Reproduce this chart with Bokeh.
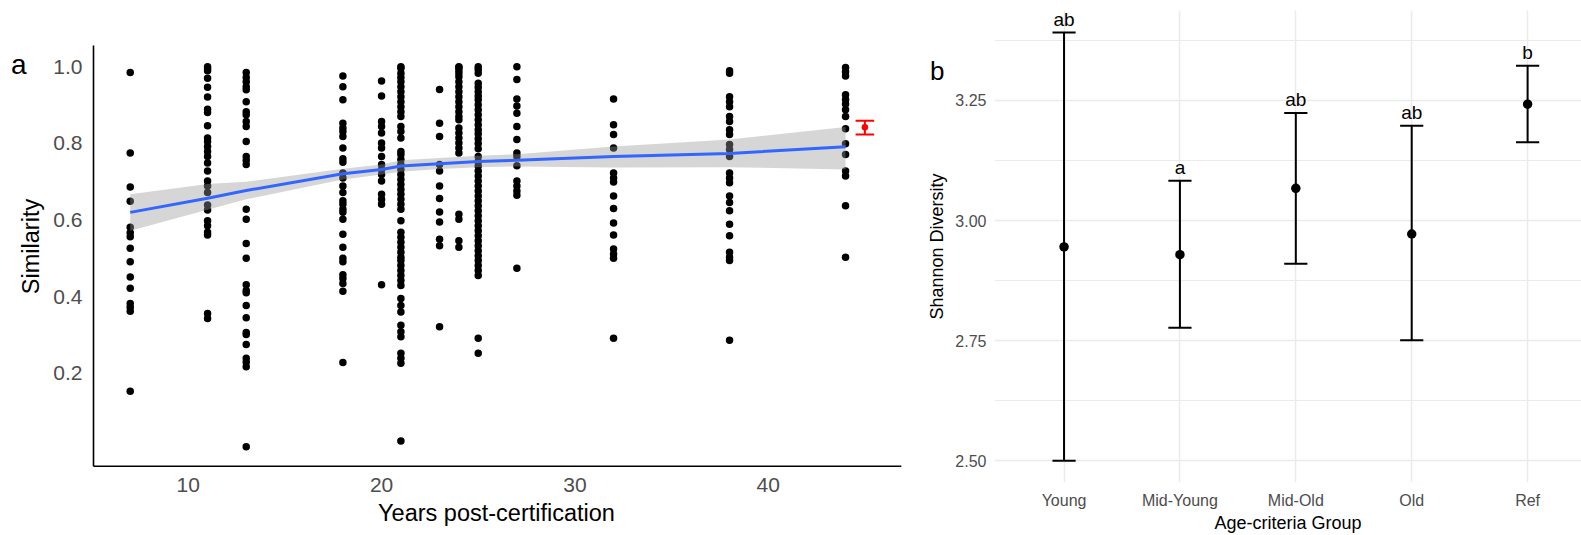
from bokeh.plotting import figure
from bokeh.layouts import row
from bokeh.models import Range1d, FixedTicker, PrintfTickFormatter, LinearAxis
from bokeh.embed import file_html
from bokeh.resources import INLINE
from bokeh.core.properties import value

FONT = "Liberation Sans"

# ---------------- panel a: similarity vs. years post-certification ----------------
sim_y07 = [0.985, 0.775, 0.686, 0.649, 0.581, 0.567, 0.556, 0.526, 0.491, 0.451,
           0.422, 0.382, 0.372, 0.362, 0.153]
sim_y11 = [1.0, 0.995, 0.99, 0.97, 0.947, 0.921, 0.889, 0.881, 0.846, 0.814, 0.805,
           0.792, 0.779, 0.766, 0.749, 0.728, 0.702, 0.689, 0.672, 0.639, 0.626,
           0.598, 0.585, 0.568, 0.561, 0.356, 0.343]
sim_y13 = [0.985, 0.972, 0.961, 0.948, 0.94, 0.909, 0.883, 0.875, 0.857, 0.844,
           0.805, 0.766, 0.756, 0.745, 0.628, 0.602, 0.539, 0.50, 0.431, 0.416,
           0.41, 0.377, 0.345, 0.306, 0.301, 0.275, 0.239, 0.229, 0.217, 0.008]
sim_y18 = [0.976, 0.948, 0.914, 0.853, 0.84, 0.831, 0.818, 0.788, 0.76, 0.751,
           0.723, 0.71, 0.689, 0.672, 0.65, 0.641, 0.628, 0.62, 0.602, 0.563,
           0.529, 0.50, 0.491, 0.457, 0.447, 0.434, 0.414, 0.228]
sim_y20 = [0.963, 0.924, 0.857, 0.844, 0.827, 0.801, 0.788, 0.766, 0.745, 0.732,
           0.719, 0.702, 0.667, 0.654, 0.641, 0.431]
sim_y21 = [1.0, 0.996, 0.983, 0.972, 0.961, 0.948, 0.935, 0.922, 0.909, 0.896,
           0.883, 0.87, 0.844, 0.831, 0.814, 0.779, 0.771, 0.758, 0.745, 0.732,
           0.719, 0.706, 0.693, 0.68, 0.667, 0.654, 0.641, 0.628, 0.598, 0.568,
           0.555, 0.542, 0.529, 0.516, 0.503, 0.494, 0.481, 0.468, 0.455, 0.442,
           0.429, 0.395, 0.377, 0.36, 0.325, 0.308, 0.295, 0.252, 0.239, 0.226,
           0.023]
sim_y23 = [0.941, 0.853, 0.818, 0.745, 0.728, 0.689, 0.656, 0.621, 0.595, 0.55,
           0.533, 0.321]
sim_y24 = [1.0, 0.998, 0.991, 0.983, 0.974, 0.961, 0.948, 0.935, 0.922, 0.909,
           0.896, 0.883, 0.87, 0.862, 0.84, 0.827, 0.814, 0.801, 0.788, 0.775,
           0.615, 0.602, 0.546, 0.529]
sim_y25 = [1.0, 0.993, 0.983, 0.957, 0.947, 0.935, 0.924, 0.914, 0.901, 0.888,
           0.875, 0.862, 0.849, 0.836, 0.825, 0.812, 0.8, 0.786, 0.766, 0.753,
           0.741, 0.728, 0.715, 0.702, 0.689, 0.676, 0.663, 0.65, 0.637, 0.624,
           0.611, 0.598, 0.585, 0.572, 0.559, 0.546, 0.533, 0.52, 0.507, 0.494,
           0.481, 0.468, 0.455, 0.291, 0.252]
sim_y27 = [1.0, 0.967, 0.916, 0.898, 0.879, 0.844, 0.81, 0.775, 0.766, 0.742,
           0.702, 0.689, 0.676, 0.665, 0.474]
sim_y32 = [0.916, 0.849, 0.823, 0.788, 0.723, 0.71, 0.699, 0.663, 0.63, 0.592,
           0.561, 0.524, 0.511, 0.50, 0.291]
sim_y38 = [0.99, 0.983, 0.922, 0.909, 0.896, 0.87, 0.857, 0.836, 0.823, 0.797,
           0.784, 0.766, 0.723, 0.71, 0.697, 0.663, 0.646, 0.624, 0.589, 0.559,
           0.516, 0.503, 0.494, 0.286]
sim_y44 = [0.998, 0.987, 0.976, 0.927, 0.915, 0.903, 0.888, 0.87, 0.838, 0.799,
           0.771, 0.728, 0.715, 0.637, 0.503]

site_years = [7, 11, 13, 18, 20, 21, 23, 24, 25, 27, 32, 38, 44]
site_similarity = [sim_y07, sim_y11, sim_y13, sim_y18, sim_y20, sim_y21, sim_y23,
                   sim_y24, sim_y25, sim_y27, sim_y32, sim_y38, sim_y44]

# smoothed trend with its confidence band
fit_years = [7, 11, 13, 18, 20, 21, 23, 25, 27, 32, 38, 44]
fit_mean = [0.620, 0.657, 0.677, 0.721, 0.732, 0.741, 0.747, 0.753, 0.756, 0.766, 0.774, 0.791]
fit_lower = [0.572, 0.627, 0.654, 0.706, 0.719, 0.726, 0.733, 0.738, 0.740, 0.737, 0.738, 0.732]
fit_upper = [0.667, 0.694, 0.700, 0.734, 0.745, 0.756, 0.762, 0.768, 0.772, 0.792, 0.810, 0.843]

# reference-site mean with error bar
ref_year = 45
ref_mean = 0.842
ref_low = 0.823
ref_high = 0.859

year_ticks = [10, 20, 30, 40]
sim_ticks = [0.2, 0.4, 0.6, 0.8, 1.0]
# extent of the drawn axis lines
year_axis = (5.1, 46.9)
sim_axis = (-0.043, 1.056)

# ---------------- panel b: Shannon diversity by age group ----------------
groups = ["Young", "Mid-Young", "Mid-Old", "Old", "Ref"]
div_mean = [2.945, 2.929, 3.067, 2.972, 3.242]
div_low = [2.50, 2.777, 2.910, 2.751, 3.163]
div_high = [3.391, 3.083, 3.224, 3.197, 3.322]
div_letters = ["ab", "a", "ab", "ab", "b"]
div_ticks = [2.50, 2.75, 3.00, 3.25]
div_minor = [2.625, 2.875, 3.125, 3.375]


def style_text_axis(ax, tick_size, title_size, tick_color="#4D4D4D"):
    ax.major_label_text_font = FONT
    ax.major_label_text_font_size = tick_size
    ax.major_label_text_color = tick_color
    ax.axis_label_text_font = FONT
    ax.axis_label_text_font_size = title_size
    ax.axis_label_text_font_style = "normal"
    ax.axis_label_text_color = "black"
    ax.major_tick_line_color = None
    ax.minor_tick_line_color = None
    ax.major_tick_out = 0
    ax.major_tick_in = 0
    ax.minor_tick_out = 0
    ax.minor_tick_in = 0
    ax.axis_line_color = None


def panel_tag(letter, at, size, standoff):
    # an outer left axis carrying only the panel letter
    tag = LinearAxis(ticker=FixedTicker(ticks=[at]),
                     formatter=PrintfTickFormatter(format=letter))
    style_text_axis(tag, size, size, tick_color="black")
    tag.major_label_standoff = standoff
    return tag


# ---- panel a figure ----
pa = figure(width=910, height=535, output_backend="svg", toolbar_location=None,
            x_range=Range1d(4.9966, 46.894), y_range=Range1d(-0.0854, 1.1471),
            min_border_left=91, min_border_right=9, min_border_top=10,
            min_border_bottom=50)
pa.outline_line_color = None
pa.grid.visible = False
pa.background_fill_color = "white"
pa.border_fill_color = "white"

xs, ys = [], []
for yr, vals in zip(site_years, site_similarity):
    xs.extend([yr] * len(vals))
    ys.extend(vals)
pa.scatter(xs, ys, size=7.5, color="black", line_color=None)

pa.varea(x=fit_years, y1=fit_lower, y2=fit_upper, fill_color="#999999", fill_alpha=0.4)
pa.line(fit_years, fit_mean, line_color="#3366FF", line_width=3)

pa.segment(x0=[ref_year], y0=[ref_low], x1=[ref_year], y1=[ref_high],
           line_color="red", line_width=2)
pa.segment(x0=[ref_year - 0.48, ref_year - 0.48], y0=[ref_low, ref_high],
           x1=[ref_year + 0.48, ref_year + 0.48], y1=[ref_low, ref_high],
           line_color="red", line_width=2)
pa.scatter([ref_year], [ref_mean], size=6.5, color="red", line_color=None)

# classic L-shaped axis lines
pa.segment(x0=[year_axis[0], year_axis[0]], y0=[sim_axis[0], sim_axis[0]],
           x1=[year_axis[0], year_axis[1]], y1=[sim_axis[1], sim_axis[0]],
           line_color="black", line_width=1.6)

pa.xaxis.ticker = FixedTicker(ticks=year_ticks)
pa.yaxis.ticker = FixedTicker(ticks=sim_ticks)
pa.yaxis.formatter = PrintfTickFormatter(format="%.1f")
pa.xaxis.axis_label = "Years post-certification"
pa.yaxis.axis_label = "Similarity"
for ax in (pa.xaxis[0], pa.yaxis[0]):
    style_text_axis(ax, "21px", "23.5px")
pa.xaxis.major_label_standoff = -5
pa.xaxis.axis_label_standoff = 5
pa.yaxis.major_label_standoff = 9
pa.yaxis.axis_label_standoff = 6

pa.add_layout(panel_tag("a", 1.006, "28px", -11), "left")

# ---- panel b figure ----
pb = figure(width=671, height=535, output_backend="svg", toolbar_location=None,
            x_range=Range1d(0.4, 5.465), y_range=Range1d(2.455, 3.437),
            min_border_left=84, min_border_right=0, min_border_top=10,
            min_border_bottom=50)
pb.outline_line_color = None
pb.background_fill_color = "white"
pb.border_fill_color = "white"

pos = list(range(1, len(groups) + 1))
pb.xgrid.ticker = FixedTicker(ticks=pos)
pb.ygrid.ticker = FixedTicker(ticks=div_ticks, minor_ticks=div_minor)
pb.xgrid.grid_line_color = "#EBEBEB"
pb.ygrid.grid_line_color = "#EBEBEB"
pb.xgrid.grid_line_width = 1.5
pb.ygrid.grid_line_width = 1.5
pb.ygrid.minor_grid_line_color = "#EBEBEB"
pb.ygrid.minor_grid_line_width = 1.2

pb.segment(x0=pos, y0=div_low, x1=pos, y1=div_high, line_color="black", line_width=2)
cap_x0 = [p - 0.1 for p in pos]
cap_x1 = [p + 0.1 for p in pos]
pb.segment(x0=cap_x0, y0=div_low, x1=cap_x1, y1=div_low, line_color="black", line_width=2)
pb.segment(x0=cap_x0, y0=div_high, x1=cap_x1, y1=div_high, line_color="black", line_width=2)
pb.scatter(pos, div_mean, size=9.5, color="black", line_color=None)
pb.text(x=pos, y=div_high, text=div_letters, text_font=value(FONT),
        text_font_size="19px", text_align="center", text_baseline="middle",
        y_offset=-13, text_color="black")

pb.xaxis.ticker = FixedTicker(ticks=pos)
pb.xaxis.major_label_overrides = {p: g for p, g in zip(pos, groups)}
pb.yaxis.ticker = FixedTicker(ticks=div_ticks)
pb.yaxis.formatter = PrintfTickFormatter(format="%.2f")
pb.xaxis.axis_label = "Age-criteria Group"
pb.yaxis.axis_label = "Shannon Diversity"
style_text_axis(pb.xaxis[0], "16px", "18px")
style_text_axis(pb.yaxis[0], "16px", "18px")
pb.xaxis.major_label_standoff = 9
pb.xaxis.axis_label_standoff = 1
pb.yaxis.major_label_standoff = 8
pb.yaxis.axis_label_standoff = 5

pb.add_layout(panel_tag("b", 3.3115, "26px", -20), "left")

layout = row(pa, pb)
open("out.html", "w").write(file_html(layout, INLINE))
